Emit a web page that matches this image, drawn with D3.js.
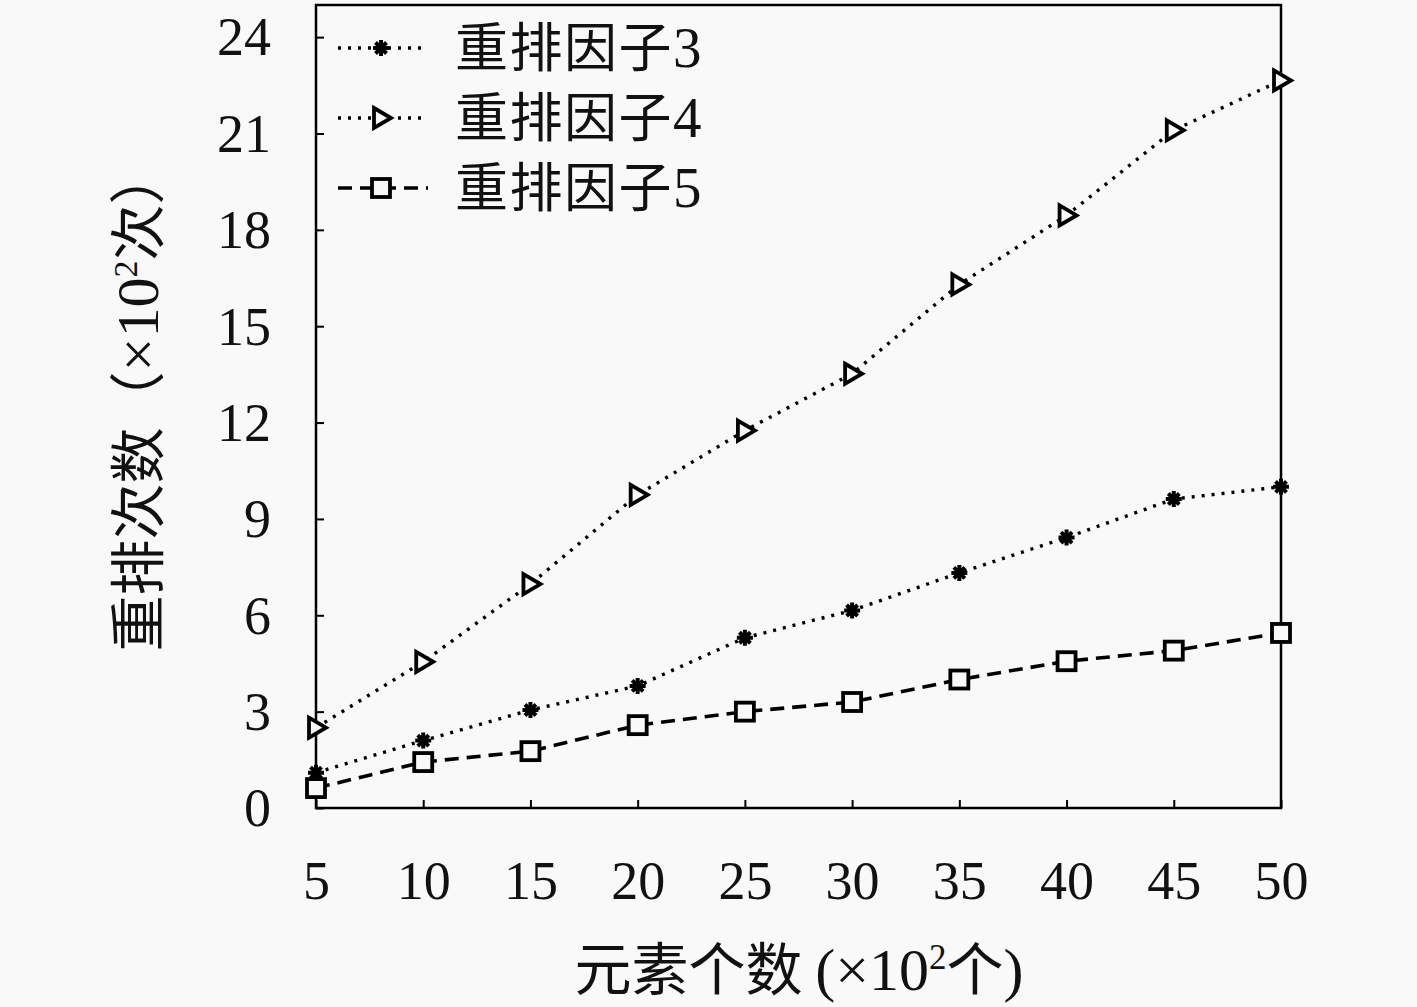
<!DOCTYPE html>
<html><head><meta charset="utf-8">
<script src="https://cdn.jsdelivr.net/npm/d3@7/dist/d3.min.js"></script>
<style>
html,body{margin:0;padding:0;background:#f9f9f9;}
svg{display:block;}
</style></head>
<body>
<svg id="chart" width="1417" height="1007"></svg>
<script>
const xValues = [5, 10, 15, 20, 25, 30, 35, 40, 45, 50];
const factor3 = [1.1, 2.1, 3.05, 3.8, 5.3, 6.15, 7.32, 8.42, 9.62, 10.0];
const factor4 = [2.5, 4.55, 6.97, 9.75, 11.75, 13.52, 16.3, 18.45, 21.1, 22.65];
const factor5 = [0.62, 1.43, 1.77, 2.58, 3.0, 3.3, 4.0, 4.57, 4.9, 5.45];
const seriesNames = ["重排因子3", "重排因子4", "重排因子5"];
const yTicks = [0, 3, 6, 9, 12, 15, 18, 21, 24];
const xTicks = [5, 10, 15, 20, 25, 30, 35, 40, 45, 50];

const svg = d3.select("#chart");
const L = 316, R = 1281, T = 5, B = 808;
const x = d3.scaleLinear().domain([5, 50]).range([L, R]);
const y = d3.scaleLinear().domain([0, 25]).range([B, T]);
const numFont = "'Liberation Serif','DejaVu Serif',serif";
const cjkFont = "'Noto Sans CJK SC','Liberation Serif',serif";
const bg = "#f9f9f9";

// axes with inward ticks
const xAxis = d3.axisBottom(x).tickValues(xTicks).tickSizeInner(-8).tickSizeOuter(0);
const gx = svg.append("g").attr("transform", `translate(0,${B})`).call(xAxis);
gx.select(".domain").remove();
gx.selectAll(".tick line").attr("stroke", "#000").attr("stroke-width", 2);
gx.selectAll(".tick text").attr("font-family", numFont).attr("font-size", 54).attr("fill", "#111").attr("dy", "0.35em").attr("y", 72);

const yAxis = d3.axisLeft(y).tickValues(yTicks).tickSizeInner(-8).tickSizeOuter(0);
const gy = svg.append("g").attr("transform", `translate(${L},0)`).call(yAxis);
gy.select(".domain").remove();
gy.selectAll(".tick line").attr("stroke", "#000").attr("stroke-width", 2);
gy.selectAll(".tick text").attr("font-family", numFont).attr("font-size", 54).attr("fill", "#111").attr("x", -45).attr("dy", "0.33em");

// frame
svg.append("rect").attr("x", L).attr("y", T).attr("width", R - L).attr("height", B - T)
  .attr("fill", "none").attr("stroke", "#000").attr("stroke-width", 2.5);

// axis labels
svg.append("text").attr("x", 799).attr("y", 990).attr("text-anchor", "middle")
  .attr("font-family", cjkFont).attr("font-size", 57).attr("fill", "#111")
  .html(`元素个数 <tspan font-family="${numFont}" font-size="60">(×10</tspan><tspan font-family="${numFont}" dy="-21" font-size="35">2</tspan><tspan dy="21">个</tspan><tspan font-family="${numFont}" font-size="60">)</tspan>`);
svg.append("text").attr("transform", "translate(158,400) rotate(-90)").attr("text-anchor", "middle")
  .attr("font-family", cjkFont).attr("font-size", 56).attr("fill", "#111")
  .html(`重排次数（<tspan font-family="${numFont}" font-size="60">×10</tspan><tspan font-family="${numFont}" dy="-21" font-size="34">2</tspan><tspan dy="21">次）</tspan>`);

// markers
function star(g) {
  g.append("path").attr("d", "M-8,0H8M0,-8V8M-5.5,-5.5L5.5,5.5M-5.5,5.5L5.5,-5.5")
    .attr("stroke", "#000").attr("stroke-width", 4).attr("fill", "none");
  g.append("circle").attr("r", 4).attr("fill", "#000");
}
function tri(g) {
  g.append("path").attr("d", "M-7,-10L10,0L-7,10Z")
    .attr("stroke", "#000").attr("stroke-width", 3.8).attr("fill", bg).attr("stroke-linejoin", "miter");
}
function sq(g) {
  g.append("rect").attr("x", -9).attr("y", -9).attr("width", 18).attr("height", 18)
    .attr("stroke", "#000").attr("stroke-width", 3.8).attr("fill", bg);
}

const series = [
  {name: seriesNames[0], values: factor3, dash: "3,7", width: 3.4, marker: star},
  {name: seriesNames[1], values: factor4, dash: "3,7", width: 3.4, marker: tri},
  {name: seriesNames[2], values: factor5, dash: "14,8", width: 3.6, marker: sq}
];

const line = d3.line().x(d => x(d[0])).y(d => y(d[1]));
const plot = svg.append("g");
series.forEach(s => {
  const pts = xValues.map((xv, i) => [xv, s.values[i]]);
  plot.append("path").datum(pts).attr("d", line).attr("fill", "none")
    .attr("stroke", "#000").attr("stroke-width", s.width).attr("stroke-dasharray", s.dash);
});
series.forEach(s => {
  xValues.forEach((xv, i) => {
    const g = plot.append("g").attr("transform", `translate(${x(xv)},${y(s.values[i])})`);
    s.marker(g);
  });
});

// legend
const legend = svg.append("g");
series.forEach((s, i) => {
  const ly = 48 + i * 70;
  legend.append("line").attr("x1", 338).attr("x2", 428).attr("y1", ly).attr("y2", ly)
    .attr("stroke", "#000").attr("stroke-width", s.width).attr("stroke-dasharray", s.dash);
  const g = legend.append("g").attr("transform", `translate(381,${ly})`);
  s.marker(g);
  legend.append("text").attr("x", 455).attr("y", ly).attr("dy", "0.36em")
    .attr("font-family", cjkFont).attr("font-size", 53).attr("fill", "#111").attr("letter-spacing", 1.5)
    .html(s.name.slice(0, 4) + `<tspan font-family="${numFont}" font-size="57">${s.name.slice(4)}</tspan>`);
});
</script>
</body></html>
